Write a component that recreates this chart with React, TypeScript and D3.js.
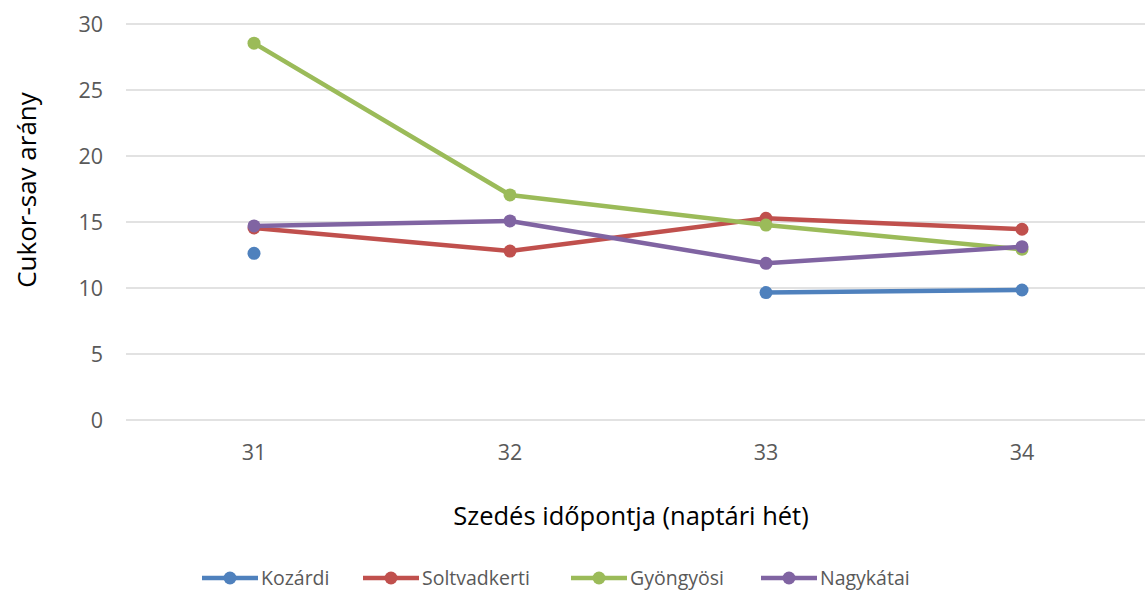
import React, { useEffect, useRef } from 'react';
import * as d3 from 'd3';

const weeks = ['31', '32', '33', '34'];
const seriesNames = ['Kozárdi', 'Soltvadkerti', 'Gyöngyösi', 'Nagykátai'];
const colors = ['#4f81bd', '#c0504d', '#9bbb59', '#8064a2'];
const kozardi = [12.63, null, 9.65, 9.85];
const soltvadkerti = [14.55, 12.8, 15.28, 14.45];
const gyongyosi = [28.55, 17.05, 14.77, 12.93];
const nagykatai = [14.7, 15.08, 11.87, 13.13];
const yTicks = [0, 5, 10, 15, 20, 25, 30];

const App = () => {
  const ref = useRef<SVGSVGElement | null>(null);

  useEffect(() => {
    document.body.style.margin = '0';
    const width = 1145;
    const height = 592;
    const margin = { top: 24, right: -5, bottom: 172, left: 126 };
    const font = '"Open Sans", sans-serif';

    const svg = d3.select(ref.current);
    svg.selectAll('*').remove();

    const x = d3
      .scaleBand()
      .domain(weeks)
      .range([margin.left, width - margin.right])
      .padding(0);

    const y = d3
      .scaleLinear()
      .domain([0, 30])
      .range([height - margin.bottom, margin.top]);

    // gridlines
    svg
      .append('g')
      .selectAll('line')
      .data(yTicks)
      .enter()
      .append('line')
      .attr('x1', margin.left)
      .attr('x2', width)
      .attr('y1', (d) => y(d))
      .attr('y2', (d) => y(d))
      .attr('stroke', '#d9d9d9')
      .attr('stroke-width', 1.3);

    // y tick labels
    svg
      .append('g')
      .selectAll('text')
      .data(yTicks)
      .enter()
      .append('text')
      .attr('x', 103)
      .attr('y', (d) => y(d))
      .attr('dy', '0.35em')
      .attr('text-anchor', 'end')
      .style('font-family', font)
      .style('font-size', '21.5px')
      .attr('fill', '#595959')
      .text((d) => d);

    // x tick labels
    svg
      .append('g')
      .selectAll('text')
      .data(weeks)
      .enter()
      .append('text')
      .attr('x', (d) => (x(d) as number) + x.bandwidth() / 2)
      .attr('y', 452)
      .attr('dy', '0.35em')
      .attr('text-anchor', 'middle')
      .style('font-family', font)
      .style('font-size', '21.5px')
      .attr('fill', '#595959')
      .text((d) => d);

    // axis titles
    svg
      .append('text')
      .attr('x', 631)
      .attr('y', 516)
      .attr('dy', '0.35em')
      .attr('text-anchor', 'middle')
      .style('font-family', font)
      .style('font-size', '25.5px')
      .attr('fill', '#000')
      .text('Szedés időpontja (naptári hét)');

    svg
      .append('text')
      .attr('transform', 'translate(27,190) rotate(-90)')
      .attr('dy', '0.35em')
      .attr('text-anchor', 'middle')
      .style('font-family', font)
      .style('font-size', '26px')
      .attr('fill', '#000')
      .text('Cukor-sav arány');

    const allSeries = [kozardi, soltvadkerti, gyongyosi, nagykatai];
    const cx = (i: number) => (x(weeks[i]) as number) + x.bandwidth() / 2;

    const line = d3
      .line<number | null>()
      .defined((d) => d !== null)
      .x((_, i) => cx(i))
      .y((d) => y(d as number));

    allSeries.forEach((values, s) => {
      const g = svg.append('g');
      g.append('path')
        .datum(values)
        .attr('d', line)
        .attr('fill', 'none')
        .attr('stroke', colors[s])
        .attr('stroke-width', 4.5)
        .attr('stroke-linejoin', 'round')
        .attr('stroke-linecap', 'round');
      g.selectAll('circle')
        .data(values.map((v, i) => ({ v, i })).filter((d) => d.v !== null))
        .enter()
        .append('circle')
        .attr('cx', (d) => cx(d.i))
        .attr('cy', (d) => y(d.v as number))
        .attr('r', 6.5)
        .attr('fill', colors[s]);
    });

    // legend
    const legendX = [202, 363, 571, 761];
    const legend = svg.append('g');
    seriesNames.forEach((name, s) => {
      const lx = legendX[s];
      legend
        .append('line')
        .attr('x1', lx)
        .attr('x2', lx + 56)
        .attr('y1', 578)
        .attr('y2', 578)
        .attr('stroke', colors[s])
        .attr('stroke-width', 4.5);
      legend
        .append('circle')
        .attr('cx', lx + 28)
        .attr('cy', 578)
        .attr('r', 6.5)
        .attr('fill', colors[s]);
      legend
        .append('text')
        .attr('x', lx + 59)
        .attr('y', 578)
        .attr('dy', '0.35em')
        .style('font-family', font)
        .style('font-size', '19.5px')
        .attr('fill', '#595959')
        .text(name);
    });
  }, []);

  return <svg ref={ref} width={1145} height={592} style={{ display: 'block', background: '#fff' }} />;
};

export default App;
